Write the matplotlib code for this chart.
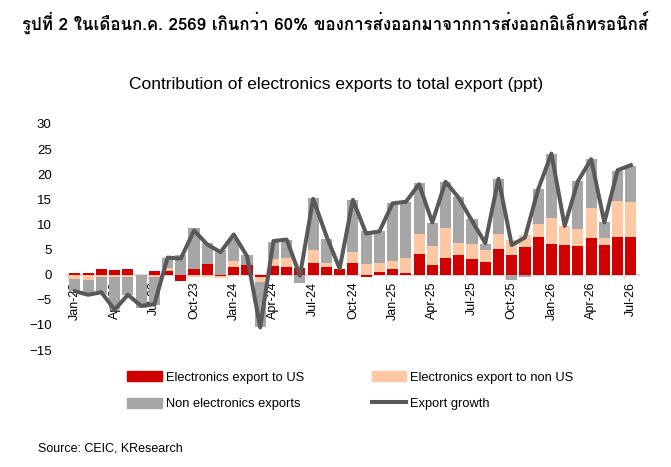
import numpy as np
import matplotlib
matplotlib.use('Agg')
import matplotlib.pyplot as plt
import matplotlib.font_manager as fm
from matplotlib.ft2font import FT2Font
from matplotlib.patches import Patch
from matplotlib.lines import Line2D

# data (ppt contributions)
months = ['Jan-23', 'Feb-23', 'Mar-23', 'Apr-23', 'May-23', 'Jun-23', 'Jul-23', 'Aug-23', 'Sep-23',
          'Oct-23', 'Nov-23', 'Dec-23', 'Jan-24', 'Feb-24', 'Mar-24', 'Apr-24', 'May-24', 'Jun-24',
          'Jul-24', 'Aug-24', 'Sep-24', 'Oct-24', 'Nov-24', 'Dec-24', 'Jan-25', 'Feb-25', 'Mar-25',
          'Apr-25', 'May-25', 'Jun-25', 'Jul-25', 'Aug-25', 'Sep-25', 'Oct-25', 'Nov-25', 'Dec-25',
          'Jan-26', 'Feb-26', 'Mar-26', 'Apr-26', 'May-26', 'Jun-26', 'Jul-26']
elec_us = [0.3, 0.3, 1.2, 0.9, 1.2, 0.0, 0.7, 0.8, -1.2, 1.2, 2.2, -0.3, 1.6, 1.9, -0.4, 1.7, 1.6,
           1.4, 2.4, 1.6, 1.1, 2.4, -0.4, 0.6, 1.1, 0.4, 4.1, 2.0, 3.3, 3.9, 3.1, 2.5, 5.1, 3.9,
           5.6, 7.5, 6.2, 6.0, 5.8, 7.3, 6.0, 7.5, 7.6]
elec_non_us = [-0.8, -1.1, -0.4, -0.4, -0.4, 0.0, -0.4, 0.6, 0.0, -0.4, -0.4, -0.4, 1.1, 0.0, -1.0,
               1.5, 1.8, 0.0, 2.5, 0.7, 0.0, 2.2, 2.1, 1.7, 1.7, 2.9, 4.0, 3.7, 5.9, 2.5, 3.0,
               2.4, 3.0, 3.0, 2.3, 2.5, 5.1, 3.6, 3.3, 5.9, 1.4, 7.1, 6.8]
non_elec = [-2.4, -2.8, -3.4, -6.5, -3.6, -6.6, -5.6, 2.0, 4.0, 8.0, 4.1, 4.9, 4.5, 2.0, -9.1, 3.4,
            3.5, -1.7, 10.4, 4.9, 0.0, 10.3, 6.6, 6.3, 11.5, 11.1, 10.1, 4.5, 9.3, 9.1, 4.9, 1.2,
            11.0, -1.0, -0.5, 7.1, 12.8, 0.1, 9.6, 9.8, 3.0, 6.0, 7.2]
export_growth = [-3.3, -4.0, -3.5, -7.0, -4.0, -6.2, -5.9, 3.4, 3.2, 8.8, 6.0, 4.5, 8.0, 3.7, -10.5,
                 6.7, 7.0, -0.2, 15.1, 7.7, 1.2, 14.9, 8.2, 8.6, 14.2, 14.5, 18.0, 10.4, 18.5, 15.3,
                 10.7, 6.3, 19.1, 5.9, 7.4, 17.0, 24.1, 9.7, 18.6, 23.0, 10.4, 20.8, 21.8]

# find a font that can draw Thai
thai_font = None
cands = []
for f in fm.fontManager.ttflist:
    try:
        if 0x0E23 in FT2Font(f.fname).get_charmap():
            cands.append(f)
    except Exception:
        pass
if cands:
    bold = [f for f in cands if f.weight in ('bold', 700, 'heavy', 800, 900)]
    thai_font = (bold or cands)[0].name
title_fam = [thai_font, 'Liberation Sans'] if thai_font else ['Liberation Sans']

plt.rcParams['font.family'] = ['Liberation Sans', 'DejaVu Sans']

c_red = '#D00000'
c_peach = '#FFC8A5'
c_gray = '#A6A6A6'
c_line = '#595959'

fig = plt.figure(figsize=(6.71, 4.67), dpi=100)
ax = fig.add_axes([0.0998, 0.2505, 0.8522, 0.484])

x = np.arange(len(months))
pos = np.zeros(len(x))
neg = np.zeros(len(x))
for vals, col in [(elec_us, c_red), (elec_non_us, c_peach), (non_elec, c_gray)]:
    v = np.array(vals)
    bottom = np.where(v >= 0, pos, neg)
    ax.bar(x, v, 0.84, bottom=bottom, color=col, zorder=2)
    pos = pos + np.where(v >= 0, v, 0)
    neg = neg + np.where(v < 0, v, 0)

ax.plot(x, export_growth, color=c_line, lw=2.9, zorder=4)

ax.set_xlim(-0.6, len(x) - 0.4)
ax.set_ylim(-15, 30)
ax.set_yticks(np.arange(-15, 31, 5))
ax.tick_params(axis='y', length=0, pad=11, labelsize=9.5)

for s in ['top', 'right', 'left']:
    ax.spines[s].set_visible(False)
ax.spines['bottom'].set_position(('data', 0))
ax.spines['bottom'].set_color('#D9D9D9')
ax.spines['bottom'].set_linewidth(1.5)
ax.spines['bottom'].set_zorder(1)

ax.set_xticks(np.arange(0, len(x), 3) - 0.5)
ax.set_xticklabels([])
ax.tick_params(axis='x', which='major', length=3, color='#D9D9D9', width=1)
ax.set_xticks(x[::3], minor=True)
ax.set_xticklabels(months[::3], minor=True, rotation=90, fontsize=9)
ax.tick_params(axis='x', which='minor', length=0, pad=5)

fig.text(0.5, 0.953, 'รูปที่ 2 ในเดือนก.ค. 2569 เกินกว่า 60% ของการส่งออกมาจากการส่งออกอิเล็กทรอนิกส์',
         ha='center', va='center', fontsize=12.2, fontweight='bold', family=title_fam)
fig.text(0.501, 0.818, 'Contribution of electronics exports to total export (ppt)',
         ha='center', va='center', fontsize=12.5)

handles = [Patch(color=c_red), Patch(color=c_peach), Patch(color=c_gray),
           Line2D([], [], color=c_line, lw=2.9)]
labels = ['Electronics export to US', 'Electronics export to non US',
          'Non electronics exports', 'Export growth']
fig.legend([handles[0], handles[2], handles[1], handles[3]],
           [labels[0], labels[2], labels[1], labels[3]],
           ncol=2, loc='upper left', bbox_to_anchor=(0.19, 0.205), frameon=False,
           fontsize=9.3, handlelength=2.65, handleheight=0.8, handletextpad=0.35,
           columnspacing=5.2, labelspacing=1.08, borderpad=0, borderaxespad=0)

fig.text(0.057, 0.04, 'Source: CEIC, KResearch', ha='left', va='center', fontsize=9)

fig.savefig('out.png', dpi=100)
